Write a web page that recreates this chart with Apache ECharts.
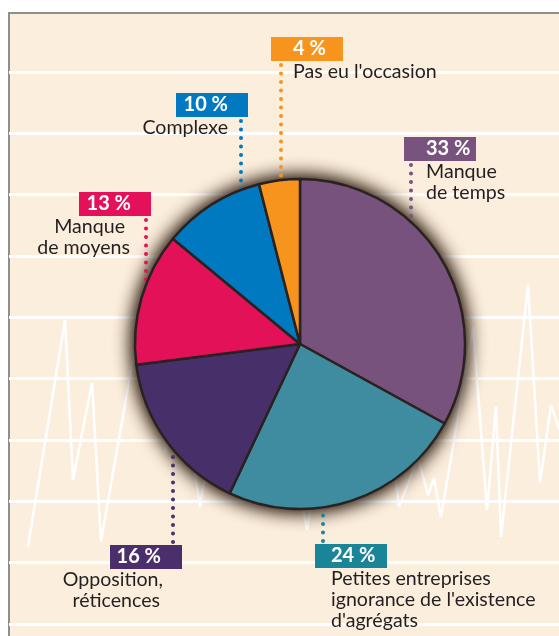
<!DOCTYPE html>
<html>
<head>
<meta charset="utf-8">
<script src="https://cdn.jsdelivr.net/npm/echarts@6/dist/echarts.min.js"></script>
<style>
html,body{margin:0;padding:0;background:#ffffff;}
#chart{width:559px;height:636px;}
</style>
</head>
<body>
<div id="chart"></div>
<script>
// ---------------- data ----------------
const categories = ["Manque de temps", "Petites entreprises ignorance de l'existence d'agrégats", "Opposition, réticences", "Manque de moyens", "Complexe", "Pas eu l'occasion"];
const labelTexts = [["Manque", "de temps"], ["Petites entreprises", "ignorance de l'existence", "d'agrégats"], ["Opposition,", "réticences"], ["Manque", "de moyens"], ["Complexe"], ["Pas eu l'occasion"]];
const values = [33, 24, 16, 13, 10, 4];
// decorative background trace (grid units)
const traceX = [19, 56, 64, 83, 92, 134, 157, 171, 191, 217, 243, 267, 298, 326, 353, 375, 390, 409, 419, 425, 432, 464, 478, 487, 492, 519, 531, 542, 556];
const traceY = [1.26, 4.96, 2.35, 3.93, 1.35, 5.25, 2.80, 4.11, 1.91, 4.63, 3.00, 4.30, 1.53, 4.55, 3.13, 4.01, 1.91, 2.71, 2.10, 2.38, 1.74, 4.84, 1.86, 3.54, 1.42, 5.53, 2.30, 3.57, 2.92];

// ---------------- styling / layout ----------------
const sliceColors = ['#76527C', '#3F8CA1', '#47306A', '#E31157', '#0079C1', '#F7941D'];
const boxColors = ['#77537E', '#1B8598', '#4B2F6C', '#E4105A', '#0079C1', '#F7941D'];
const CX = 300, CY = 344, R = 165;
const placement = [
  { x: 404, y: 137, side: 'left', lineX: 411, pad: [22, 22, 22] },
  { x: 315, y: 544, side: 'left', lineX: 323, pad: [16, 16, 16, 16] },
  { x: 182, y: 545, side: 'right', lineX: 173, pad: [21, 19, 22] },
  { x: 151, y: 192, side: 'right', lineX: 146, pad: [20, 26, 21] },
  { x: 248, y: 93, side: 'right', lineX: 241, pad: [20, 20] },
  { x: 271, y: 37, side: 'left', lineX: 281, pad: [22, 22] }
];
const FONT = 'Lato, "Open Sans", sans-serif';

function padFor(side, p) { return side === 'left' ? [0, 0, 0, p] : [0, p, 0, 0]; }

const pieData = values.map(function (v, i) {
  const L = placement[i];
  const rich = {
    pct: {
      width: 72 - L.pad[0], height: 24, lineHeight: 24,
      backgroundColor: boxColors[i], color: '#ffffff',
      fontFamily: FONT, fontWeight: 'bold', fontSize: 20,
      align: L.side, padding: padFor(L.side, L.pad[0])
    }
  };
  let fmt = '{pct|' + v + ' %}';
  labelTexts[i].forEach(function (t, j) {
    rich['d' + j] = {
      fontFamily: FONT, fontSize: 19.6, lineHeight: 21, color: '#231F20',
      align: L.side, padding: padFor(L.side, L.pad[j + 1])
    };
    fmt += '\n{d' + j + '|' + t + '}';
  });
  return {
    value: v,
    name: categories[i],
    itemStyle: { color: sliceColors[i] },
    label: { formatter: fmt, rich: rich },
    labelLine: { lineStyle: { color: boxColors[i] } }
  };
});

const total = values.reduce(function (a, b) { return a + b; }, 0);

function edgeY(x, below) {
  const dx = x - CX;
  const dy = Math.sqrt(Math.max(R * R - dx * dx, 0));
  return below ? CY + dy : CY - dy;
}

function shadowPie(z) {
  return {
    type: 'pie', silent: true, z: z,
    center: [CX, CY], radius: R,
    data: [{ value: total, name: 'shadow' }],
    itemStyle: { color: '#231a15', shadowBlur: 20, shadowColor: 'rgba(35,18,6,1)' },
    label: { show: false }, labelLine: { show: false }
  };
}

const chart = echarts.init(document.getElementById('chart'), null, { renderer: 'canvas' });
chart.setOption({
  backgroundColor: '#ffffff',
  animation: false,
  graphic: [{
    type: 'rect', z: -10, silent: true,
    shape: { x: 9, y: 13, width: 700, height: 700 },
    style: { fill: '#FCEEDC', stroke: '#8E8E8E', lineWidth: 2 }
  }],
  grid: { left: 9, right: 0, top: 72, bottom: 12, show: false },
  xAxis: { type: 'value', min: 0, max: 550, show: false },
  yAxis: {
    type: 'value', min: 0, max: 9, interval: 1,
    axisLine: { show: false }, axisTick: { show: false }, axisLabel: { show: false },
    splitLine: { show: true, lineStyle: { color: '#ffffff', width: 3 } }
  },
  series: [
    {
      type: 'line', silent: true, symbol: 'none', z: 1,
      data: traceX.map(function (x, i) { return [x, traceY[i]]; }),
      lineStyle: { color: '#ffffff', width: 2.5 }
    },
    shadowPie(2),
    shadowPie(2),
    {
      type: 'pie', z: 3,
      center: [CX, CY], radius: R,
      startAngle: 90, clockwise: true,
      avoidLabelOverlap: false,
      itemStyle: { borderColor: '#2a2220', borderWidth: 2.5 },
      label: {
        show: true, position: 'outside', width: 260, overflow: 'none',
        fontFamily: FONT, fontSize: 19, color: '#231F20'
      },
      labelLine: {
        show: true, smooth: false,
        lineStyle: { width: 4, type: [0, 8.5], cap: 'round' }
      },
      labelLayout: function (p) {
        const L = placement[p.dataIndex];
        const below = L.y > CY;
        const startY = below ? L.y - 3 : L.y + 24 + 4;
        const endY = edgeY(L.lineX, below);
        return {
          x: L.x, y: L.y, align: L.side, verticalAlign: 'top',
          labelLinePoints: [[L.lineX, startY], [L.lineX, (startY + endY) / 2], [L.lineX, endY]]
        };
      },
      data: pieData
    }
  ]
});
</script>
</body>
</html>
